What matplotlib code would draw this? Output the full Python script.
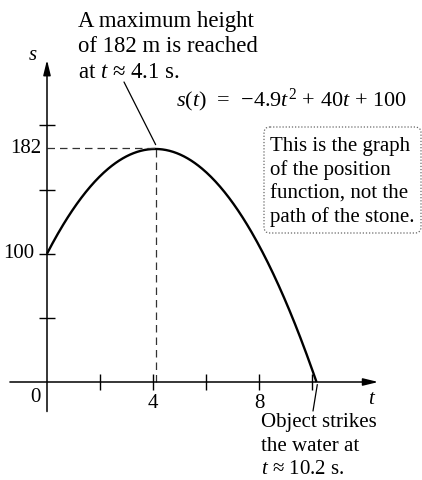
import numpy as np
import matplotlib
matplotlib.use("Agg")
import matplotlib.pyplot as plt
import matplotlib.transforms as mtransforms
from matplotlib.patches import FancyBboxPatch

plt.rcParams['font.family'] = ['Liberation Serif', 'DejaVu Serif']
plt.rcParams['mathtext.fontset'] = 'custom'
plt.rcParams['mathtext.rm'] = 'Liberation Serif'
plt.rcParams['mathtext.it'] = 'Liberation Serif:italic'

# position function s(t) = a t^2 + b t + c
coeffs = [-4.9, 40, 100]
peak_t = 4.1
peak_s = 182
hit_t = 10.2

x_ticks = [2, 4, 6, 8, 10]
x_ticklabels = {4: "4", 8: "8"}
y_ticks = [50, 100, 150, 200]
y_ticklabels = {100: "100", 182: "182"}

W, H = 422, 480
fig = plt.figure(figsize=(W / 100, H / 100), dpi=100)
ax = fig.add_axes([0, 0, 1, 1])
ax.set_xlim(-47 / 26.5, (W - 47) / 26.5)
ax.set_ylim(-(H - 382) / 1.283, 382 / 1.283)
ax.axis("off")

# pixel coords measured from the top-left corner
px = mtransforms.Affine2D().scale(0.01, -0.01).translate(0, H / 100) + fig.dpi_scale_trans

# axes with arrow heads
arrow = dict(arrowstyle="-|>,head_length=0.9,head_width=0.22", lw=1.1, color="black",
             shrinkA=0, shrinkB=0)
ax.annotate("", xy=(12.5, 0), xytext=(-1.4, 0), arrowprops=arrow)
ax.annotate("", xy=(0, 251), xytext=(0, -23), arrowprops=arrow)

ax.plot(x_ticks, np.zeros(len(x_ticks)), ls="none", marker="|", ms=12, mew=1.0, color="black")
ax.plot(np.zeros(len(y_ticks)), y_ticks, ls="none", marker="_", ms=11.5, mew=1.0, color="black")

t_end = max(np.roots(coeffs).real)
t = np.linspace(0, t_end, 300)
ax.plot(t, np.polyval(coeffs, t), color="black", lw=1.7, solid_capstyle="butt")

# guide lines to the maximum
ax.plot([0, peak_t], [peak_s, peak_s], color="#333333", lw=0.9, ls=(0, (6, 4)))
ax.plot([peak_t, peak_t], [0, peak_s], color="#333333", lw=0.9, ls=(0, (6, 4)))

fs = 15
for v, lab in x_ticklabels.items():
    ax.annotate(lab, xy=(v, 0), xytext=(0, -22), textcoords="offset pixels",
                ha="center", va="center", fontsize=fs)
ax.text(35, 397, "0", transform=px, ha="center", va="center", fontsize=fs)
for v, lab in y_ticklabels.items():
    ax.annotate(lab, xy=(0, v), xytext=(-6 if v == 182 else -13, 0), textcoords="offset pixels",
                ha="right", va="center", fontsize=fs)
ax.text(33, 55, "$s$", transform=px, ha="center", va="center", fontsize=fs)
ax.text(372, 399, "$t$", transform=px, ha="center", va="center", fontsize=fs)

# annotation: maximum height
top_lines = ["A maximum height", "of 182 m is reached", "at $t$ ≈ 4.1 s."]
for i, line in enumerate(top_lines):
    ax.text(78, 22 + 25 * i, line, transform=px, ha="left", va="center", fontsize=16.4)
ax.annotate("", xy=(peak_t, peak_s + 3), xycoords="data", xytext=(124, 82), textcoords=px,
            arrowprops=dict(arrowstyle="-", lw=0.9, color="black", shrinkA=0, shrinkB=0))

ax.text(176, 100, r"$s(t)$  =  −4.9$t^2$ + 40$t$ + 100", transform=px,
        ha="left", va="center", fontsize=16)

# note box
box = FancyBboxPatch((264, 127), 157, 106, boxstyle="round,pad=0,rounding_size=6",
                     transform=px, fill=False, ec="#666666", lw=0.9, ls=(0, (1, 1.5)))
ax.add_patch(box)
box_lines = ["This is the graph", "of the position", "function, not the", "path of the stone."]
for i, line in enumerate(box_lines):
    ax.text(270, 147 + 23.3 * i, line, transform=px, ha="left", va="center", fontsize=15)

# annotation: hitting the water
bottom_lines = ["Object strikes", "the water at", "$t$ ≈ 10.2 s."]
for i, line in enumerate(bottom_lines):
    ax.text(261, 423 + 23.5 * i, line, transform=px, ha="left", va="center", fontsize=15)
ax.annotate("", xy=(hit_t, -2), xycoords="data", xytext=(313, 411), textcoords=px,
            arrowprops=dict(arrowstyle="-", lw=0.9, color="black", shrinkA=0, shrinkB=0))

fig.savefig("out.png", dpi=100)
